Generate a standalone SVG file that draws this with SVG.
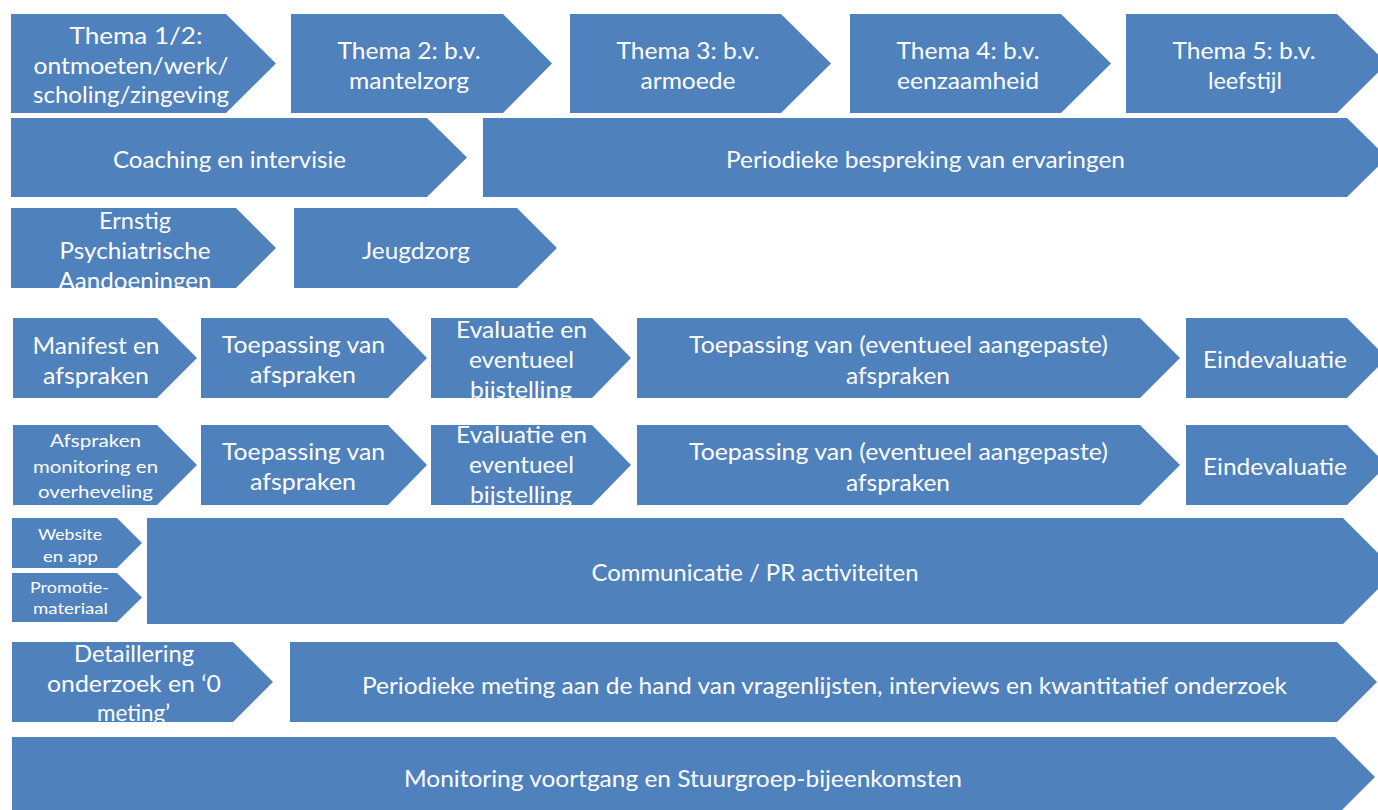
<svg xmlns="http://www.w3.org/2000/svg" xmlns:xlink="http://www.w3.org/1999/xlink" width="1378" height="810" viewBox="0 0 1378 810">
<style>
.box{fill:#4F81BD}
.t{fill:#ffffff;font-family:Lato,"Liberation Sans",sans-serif;font-size:23px;text-anchor:middle}
.s{font-size:18px}
.xs{font-size:15px}
</style>
<defs>
<polygon id="p-ernstig" points="11,208 236,208 276,248 236,288 11,288"/>
<polygon id="p-eval1" points="431,318 592,318 631,358 592,398 431,398"/>
<polygon id="p-afspr" points="13,425 157,425 197,465 157,505 13,505"/>
<polygon id="p-eval2" points="431,425 592,425 631,465 592,505 431,505"/>
<polygon id="p-detail" points="12,642 233,642 273,682 233,722 12,722"/>
<clipPath id="c-ernstig"><use xlink:href="#p-ernstig"/></clipPath>
<clipPath id="c-eval1"><use xlink:href="#p-eval1"/></clipPath>
<clipPath id="c-afspr"><use xlink:href="#p-afspr"/></clipPath>
<clipPath id="c-eval2"><use xlink:href="#p-eval2"/></clipPath>
<clipPath id="c-detail"><use xlink:href="#p-detail"/></clipPath>
</defs>
<rect width="1378" height="810" fill="#ffffff"/>

<g id="thema1">
<polygon class="box" points="11,14 226,14 276,63.5 226,113 11,113"/>
<text class="t" x="136" y="44" textLength="133" lengthAdjust="spacingAndGlyphs">Thema 1/2:</text>
<text class="t" x="131" y="74" textLength="195" lengthAdjust="spacingAndGlyphs">ontmoeten/werk/</text>
<text class="t" x="131" y="103" textLength="196" lengthAdjust="spacingAndGlyphs">scholing/zingeving</text>
</g>
<g id="thema2">
<polygon class="box" points="291,14 503,14 552,63.5 503,113 291,113"/>
<text class="t" x="409" y="59" textLength="143" lengthAdjust="spacingAndGlyphs">Thema 2: b.v.</text>
<text class="t" x="409" y="89" textLength="120" lengthAdjust="spacingAndGlyphs">mantelzorg</text>
</g>
<g id="thema3">
<polygon class="box" points="570,14 781,14 831,63.5 781,113 570,113"/>
<text class="t" x="688" y="59" textLength="143" lengthAdjust="spacingAndGlyphs">Thema 3: b.v.</text>
<text class="t" x="688" y="89" textLength="95" lengthAdjust="spacingAndGlyphs">armoede</text>
</g>
<g id="thema4">
<polygon class="box" points="850,14 1061,14 1111,63.5 1061,113 850,113"/>
<text class="t" x="968" y="59" textLength="143" lengthAdjust="spacingAndGlyphs">Thema 4: b.v.</text>
<text class="t" x="968" y="89" textLength="142" lengthAdjust="spacingAndGlyphs">eenzaamheid</text>
</g>
<g id="thema5">
<polygon class="box" points="1126,14 1337,14 1387,63.5 1337,113 1126,113"/>
<text class="t" x="1244" y="59" textLength="143" lengthAdjust="spacingAndGlyphs">Thema 5: b.v.</text>
<text class="t" x="1245" y="89" textLength="74" lengthAdjust="spacingAndGlyphs">leefstijl</text>
</g>

<g id="coaching">
<polygon class="box" points="11,118 427,118 467,157.5 427,197 11,197"/>
<text class="t" x="229.5" y="168" textLength="233" lengthAdjust="spacingAndGlyphs">Coaching en intervisie</text>
</g>
<g id="bespreking">
<polygon class="box" points="483,118 1347,118 1387,157.5 1347,197 483,197"/>
<text class="t" x="925.5" y="168" textLength="399" lengthAdjust="spacingAndGlyphs">Periodieke bespreking van ervaringen</text>
</g>

<g id="ernstig">
<use xlink:href="#p-ernstig" class="box"/>
<g clip-path="url(#c-ernstig)">
<text class="t" x="135" y="229" textLength="72" lengthAdjust="spacingAndGlyphs">Ernstig</text>
<text class="t" x="135" y="259" textLength="151" lengthAdjust="spacingAndGlyphs">Psychiatrische</text>
<text class="t" x="135" y="289" textLength="153" lengthAdjust="spacingAndGlyphs">Aandoeningen</text>
</g>
</g>
<g id="jeugdzorg">
<polygon class="box" points="294,208 517,208 557,248 517,288 294,288"/>
<text class="t" x="416" y="259" textLength="108" lengthAdjust="spacingAndGlyphs">Jeugdzorg</text>
</g>

<g id="manifest">
<polygon class="box" points="13,318 157,318 197,358 157,398 13,398"/>
<text class="t" x="96" y="354" textLength="127" lengthAdjust="spacingAndGlyphs">Manifest en</text>
<text class="t" x="96" y="384" textLength="106" lengthAdjust="spacingAndGlyphs">afspraken</text>
</g>
<g id="toepassing1">
<polygon class="box" points="201,318 388,318 427,358 388,398 201,398"/>
<text class="t" x="303.5" y="353" textLength="163" lengthAdjust="spacingAndGlyphs">Toepassing van</text>
<text class="t" x="303" y="383" textLength="106" lengthAdjust="spacingAndGlyphs">afspraken</text>
</g>
<g id="evaluatie1">
<use xlink:href="#p-eval1" class="box"/>
<g clip-path="url(#c-eval1)">
<text class="t" x="521.5" y="338" textLength="131" lengthAdjust="spacingAndGlyphs">Evaluatie en</text>
<text class="t" x="521.5" y="368" textLength="105" lengthAdjust="spacingAndGlyphs">eventueel</text>
<text class="t" x="521" y="398" textLength="102" lengthAdjust="spacingAndGlyphs">bijstelling</text>
</g>
</g>
<g id="toepassing-lang1">
<polygon class="box" points="637,318 1140,318 1180,358 1140,398 637,398"/>
<text class="t" x="898.5" y="353" textLength="419" lengthAdjust="spacingAndGlyphs">Toepassing van (eventueel aangepaste)</text>
<text class="t" x="898" y="384" textLength="104" lengthAdjust="spacingAndGlyphs">afspraken</text>
</g>
<g id="eindevaluatie1">
<polygon class="box" points="1186,318 1347,318 1387,358 1347,398 1186,398"/>
<text class="t" x="1275" y="368" textLength="144" lengthAdjust="spacingAndGlyphs">Eindevaluatie</text>
</g>

<g id="afspraken-monitoring">
<use xlink:href="#p-afspr" class="box"/>
<g clip-path="url(#c-afspr)">
<text class="t s" x="95.5" y="447" textLength="91" lengthAdjust="spacingAndGlyphs">Afspraken</text>
<text class="t s" x="95.5" y="473" textLength="125" lengthAdjust="spacingAndGlyphs">monitoring en</text>
<text class="t s" x="95.5" y="498" textLength="115" lengthAdjust="spacingAndGlyphs">overheveling</text>
</g>
</g>
<g id="toepassing2">
<polygon class="box" points="201,425 388,425 427,465 388,505 201,505"/>
<text class="t" x="303.5" y="460" textLength="163" lengthAdjust="spacingAndGlyphs">Toepassing van</text>
<text class="t" x="303" y="490" textLength="106" lengthAdjust="spacingAndGlyphs">afspraken</text>
</g>
<g id="evaluatie2">
<use xlink:href="#p-eval2" class="box"/>
<g clip-path="url(#c-eval2)">
<text class="t" x="521.5" y="443" textLength="131" lengthAdjust="spacingAndGlyphs">Evaluatie en</text>
<text class="t" x="521.5" y="473" textLength="105" lengthAdjust="spacingAndGlyphs">eventueel</text>
<text class="t" x="521" y="503" textLength="102" lengthAdjust="spacingAndGlyphs">bijstelling</text>
</g>
</g>
<g id="toepassing-lang2">
<polygon class="box" points="637,425 1140,425 1180,465 1140,505 637,505"/>
<text class="t" x="898.5" y="460" textLength="419" lengthAdjust="spacingAndGlyphs">Toepassing van (eventueel aangepaste)</text>
<text class="t" x="898" y="491" textLength="104" lengthAdjust="spacingAndGlyphs">afspraken</text>
</g>
<g id="eindevaluatie2">
<polygon class="box" points="1186,425 1347,425 1387,465 1347,505 1186,505"/>
<text class="t" x="1275" y="475" textLength="144" lengthAdjust="spacingAndGlyphs">Eindevaluatie</text>
</g>

<g id="website">
<polygon class="box" points="12,518 117,518 142,543 117,568 12,568"/>
<text class="t xs" x="70" y="540" textLength="64" lengthAdjust="spacingAndGlyphs">Website</text>
<text class="t xs" x="70.5" y="562" textLength="55" lengthAdjust="spacingAndGlyphs">en app</text>
</g>
<g id="promotie">
<polygon class="box" points="12,573 117,573 142,597.5 117,622 12,622"/>
<text class="t xs" x="69.5" y="593" textLength="79" lengthAdjust="spacingAndGlyphs">Promotie-</text>
<text class="t xs" x="70.5" y="614" textLength="75" lengthAdjust="spacingAndGlyphs">materiaal</text>
</g>
<g id="communicatie">
<polygon class="box" points="147,518 1343,518 1396,571 1343,624 147,624"/>
<text class="t" x="755" y="581" textLength="327" lengthAdjust="spacingAndGlyphs">Communicatie / PR activiteiten</text>
</g>

<g id="detaillering">
<use xlink:href="#p-detail" class="box"/>
<g clip-path="url(#c-detail)">
<text class="t" x="134" y="662" textLength="120" lengthAdjust="spacingAndGlyphs">Detaillering</text>
<text class="t" x="134" y="692" textLength="174" lengthAdjust="spacingAndGlyphs">onderzoek en ‘0</text>
<text class="t" x="133.5" y="721" textLength="73" lengthAdjust="spacingAndGlyphs">meting’</text>
</g>
</g>
<g id="meting">
<polygon class="box" points="290,642 1337,642 1377,682 1337,722 290,722"/>
<text class="t" x="824.5" y="694" textLength="925" lengthAdjust="spacingAndGlyphs">Periodieke meting aan de hand van vragenlijsten, interviews en kwantitatief onderzoek</text>
</g>

<g id="monitoring">
<polygon class="box" points="12,737 1335,737 1375,777 1335,817 12,817"/>
<text class="t" x="683" y="787" textLength="558" lengthAdjust="spacingAndGlyphs">Monitoring voortgang en Stuurgroep-bijeenkomsten</text>
</g>

<g id="connectors"/>
</svg>
